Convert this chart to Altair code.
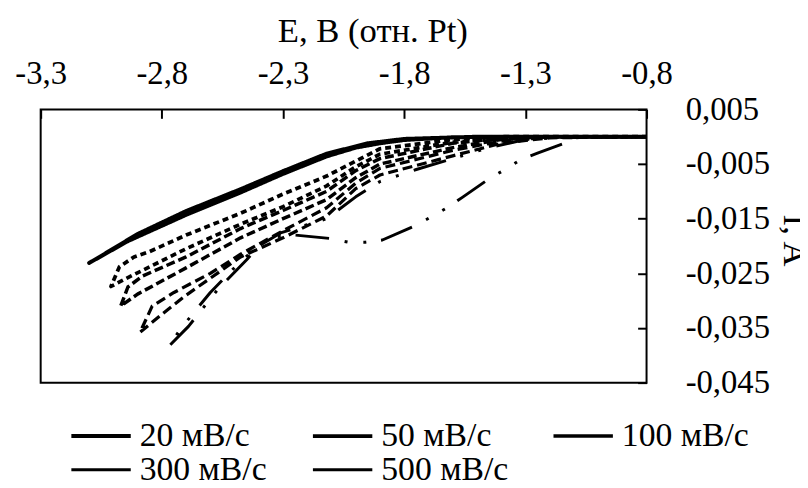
import altair as alt
import pandas as pd

series_names = ["20 мВ/с", "50 мВ/с", "100 мВ/с", "300 мВ/с", "500 мВ/с"]
dash_keys = ["k20", "k50", "k100", "k300", "k500"]

# 20 mV/s (forward then reverse)
s20_E = [-0.8, -1.3, -1.6, -1.8, -1.9, -2.0, -2.12, -2.3, -2.475, -2.7, -2.94, -3.10,
         -3.05, -2.9, -2.7, -2.475, -2.3, -2.12, -1.95, -1.8, -1.5, -0.8]
s20_I = [0.0, 0.0, -0.0001, -0.0006, -0.0012, -0.0020, -0.0036, -0.0068, -0.0102, -0.0143, -0.0191, -0.0231,
         -0.0218, -0.0178, -0.0136, -0.0096, -0.0063, -0.0031, -0.0012, -0.0004, 0.0, 0.0]

# 50 mV/s
s50_E = [-0.8, -1.3, -1.6, -1.9, -2.0, -2.12, -2.3, -2.475, -2.7, -2.85, -2.95, -3.01,
         -2.975, -2.915, -2.85, -2.7, -2.475, -2.3, -2.12, -1.9, -1.6, -1.4, -0.8]
s50_I = [0.0, -0.0001, -0.0010, -0.0032, -0.0055, -0.0090, -0.0128, -0.0160, -0.0205, -0.0238, -0.0260, -0.0274,
         -0.0238, -0.0220, -0.0210, -0.0180, -0.0140, -0.0105, -0.0072, -0.0022, -0.0005, 0.0, 0.0]

# 100 mV/s
s100_E = [-0.8, -1.2, -1.4, -1.6, -1.9, -2.0, -2.12, -2.3, -2.475, -2.7, -2.9, -2.97,
          -2.94, -2.88, -2.7, -2.475, -2.3, -2.12, -2.0, -1.9, -1.6, -1.4, -1.2, -0.8]
s100_I = [0.0, 0.0, -0.0005, -0.0020, -0.0050, -0.0075, -0.0115, -0.0150, -0.0185, -0.0240, -0.0288, -0.0310,
          -0.0275, -0.0255, -0.0220, -0.0168, -0.0135, -0.0100, -0.0062, -0.0040, -0.0012, -0.0003, 0.0, 0.0]

# 300 mV/s
s300_E = [-0.8, -1.2, -1.4, -1.6, -1.9, -2.0, -2.12, -2.3, -2.475, -2.7, -2.8, -2.89,
          -2.84, -2.75, -2.6, -2.475, -2.3, -2.12, -2.0, -1.9, -1.6, -1.4, -1.2, -0.8]
s300_I = [0.0, -0.0002, -0.0012, -0.0035, -0.0070, -0.0095, -0.0145, -0.0185, -0.0220, -0.0290, -0.0325, -0.0358,
          -0.0310, -0.0285, -0.0250, -0.0215, -0.0172, -0.0130, -0.0085, -0.0058, -0.0025, -0.0008, -0.0001, 0.0]

# 500 mV/s
s500_E = [-0.8, -1.0, -1.1, -1.14, -1.25, -1.32, -1.38, -1.45, -1.56, -1.62, -1.69, -1.75, -1.89, -1.96,
          -2.03, -2.11, -2.25, -2.34, -2.40, -2.45, -2.57, -2.69, -2.77,
          -2.72, -2.60, -2.475, -2.40, -2.31, -2.12, -2.0, -1.9, -1.75, -1.6, -1.45, -1.3, -1.1, -0.8]
s500_I = [0.0, 0.0, -0.0002, -0.0012, -0.0030, -0.0042, -0.0059, -0.0077, -0.0111, -0.0129, -0.0147, -0.0162, -0.0189, -0.0193,
          -0.0193, -0.0186, -0.0180, -0.0183, -0.0200, -0.0225, -0.0280, -0.0347, -0.0383,
          -0.0350, -0.0285, -0.0228, -0.0200, -0.0176, -0.0150, -0.0110, -0.0082, -0.0060, -0.0040, -0.0020, -0.0005, 0.0, 0.0]

x_ticks = [-3.3, -2.8, -2.3, -1.8, -1.3, -0.8]
y_ticks = [0.005, -0.005, -0.015, -0.025, -0.035, -0.045]

# dash patterns of the five curves; the extra solid entries keep legend symbols plain
dash_styles = [[1, 0], [6, 4], [9, 4], [10, 5], [34, 15, 3, 16, 3, 16],
               [1, 0], [1, 0], [1, 0], [1, 0], [1, 0]]
line_widths = [4, 3, 3, 3, 3]

rows = []
for name, key, E, I in zip(series_names, dash_keys,
                           [s20_E, s50_E, s100_E, s300_E, s500_E],
                           [s20_I, s50_I, s100_I, s300_I, s500_I]):
    for k, (e, i) in enumerate(zip(E, I)):
        rows.append({"series": name, "dash_key": key, "step": k, "E": e, "I": i})
df = pd.DataFrame(rows)

FONT = "Liberation Serif"
TICK_FS = 33
TITLE_FS = 35
LEG_FS = 34
x_label = "(datum.value < 0 ? '-' : '') + replace(format(abs(datum.value), '.1f'), '.', ',')"
y_label = "(datum.value < 0 ? '-' : '') + replace(format(abs(datum.value), '.3f'), '.', ',')"

legend_kw = dict(
    title=None, orient="none", legendX=44, legendY=313, columns=3, direction="horizontal",
    symbolType="M-2,0H2", symbolSize=900, labelFont=FONT, labelFontSize=LEG_FS,
    labelColor="black", columnPadding=38, rowPadding=0, labelOffset=22, padding=0,
    symbolStrokeColor="black", labelLimit=400,
)

chart = alt.Chart(df).mark_line(strokeCap="butt", strokeJoin="round").encode(
    x=alt.X("E:Q", scale=alt.Scale(domain=[-3.3, -0.8], nice=False, zero=False),
            axis=alt.Axis(orient="top", values=x_ticks, labelExpr=x_label,
                          title="E, В (отн. Pt)", offset=-9, tickSize=9, tickWidth=2,
                          tickColor="black", domain=False, grid=False, labelPadding=19,
                          titleX=335, titleY=-78, titleBaseline="alphabetic", titleAlign="center",
                          labelFlush=False, labelOverlap=False)),
    y=alt.Y("I:Q", scale=alt.Scale(domain=[-0.045, 0.005], nice=False, zero=False),
            axis=alt.Axis(orient="right", values=y_ticks, labelExpr=y_label,
                          title="I, A", offset=-9, tickSize=9, tickWidth=2, tickColor="black",
                          domain=False, grid=False, labelPadding=39,
                          titleX=147, titleY=132, titleAngle=90, titleBaseline="alphabetic",
                          titleAlign="center", labelFlush=False, labelOverlap=False)),
    color=alt.Color("series:N", scale=alt.Scale(domain=series_names, range=["black"] * 5),
                    legend=alt.Legend(**legend_kw)),
    strokeWidth=alt.StrokeWidth("series:N", scale=alt.Scale(domain=series_names, range=line_widths),
                                legend=alt.Legend(**legend_kw)),
    strokeDash=alt.StrokeDash("dash_key:N", scale=alt.Scale(domain=dash_keys, range=dash_styles),
                              legend=None),
    order=alt.Order("step:Q"),
).properties(
    width=612, height=276,
    autosize=alt.AutoSizeParams(type="none"),
    padding={"left": 33, "top": 100, "right": 155, "bottom": 104},
).configure_view(
    stroke="black", strokeWidth=2
).configure_axis(
    labelFont=FONT, labelFontSize=TICK_FS, labelColor="black",
    titleFont=FONT, titleFontSize=TITLE_FS, titleColor="black", titleFontWeight="normal",
)

chart.save("out.html", embed_options={"renderer": "svg", "actions": False})
